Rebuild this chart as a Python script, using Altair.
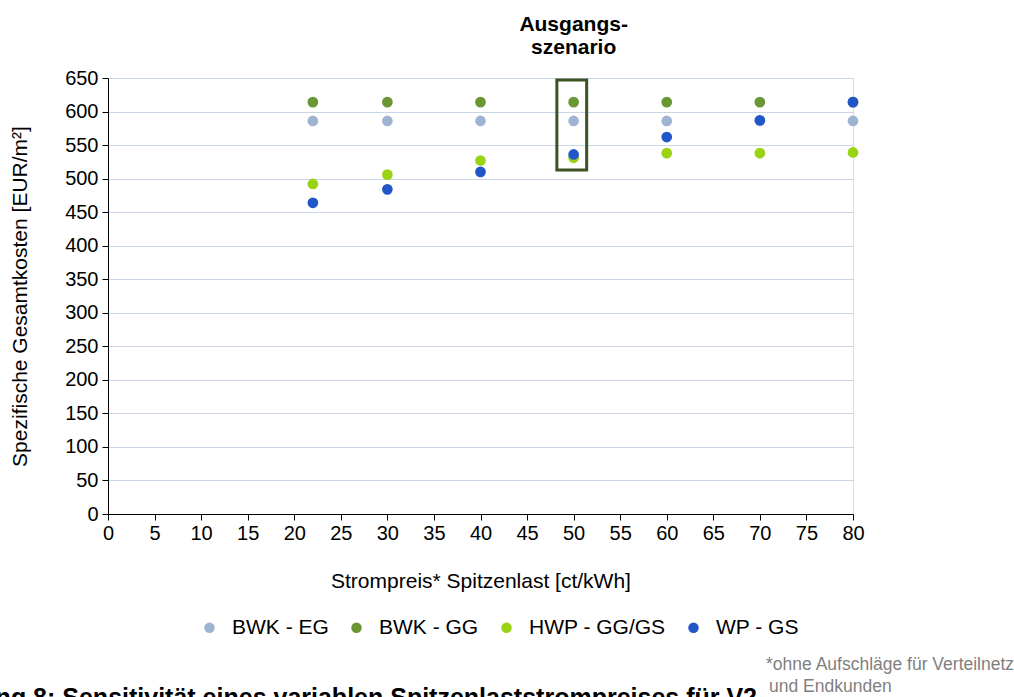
import altair as alt
import pandas as pd

strompreis = [22, 30, 40, 50, 60, 70, 80]
series_names = ["BWK - EG", "BWK - GG", "HWP - GG/GS", "WP - GS"]
bwk_eg = [586, 586, 586, 586, 586, 586, 586]
bwk_gg = [614, 614, 614, 614, 614, 614, 614]
hwp_gg_gs = [492, 506, 527, 531, 538, 538, 539]
wp_gs = [464, 484, 510, 536, 562, 587, 614]
colors = ["#9fb3d3", "#6a9733", "#99d314", "#2156c9"]

box_x = [48.2, 51.4]
box_y = [513, 647]

rows = []
for name, vals in zip(series_names, [bwk_eg, bwk_gg, hwp_gg_gs, wp_gs]):
    for xv, yv in zip(strompreis, vals):
        rows.append({"Strompreis": xv, "Kosten": yv, "Serie": name})
df = pd.DataFrame(rows)

FONT = "Liberation Sans"
xs = alt.Scale(domain=[0, 80], nice=False, zero=True)
ys = alt.Scale(domain=[0, 650], nice=False)

x_axis = alt.Axis(values=list(range(0, 81, 5)), title="Strompreis* Spitzenlast [ct/kWh]",
                  grid=False, domainColor="black", tickColor="black", tickSize=6,
                  labelFontSize=20, titleFontSize=21, labelColor="black", titleColor="black",
                  titleFontWeight="normal", titlePadding=27, labelPadding=3, labelFont=FONT, titleFont=FONT,
                  labelOverlap=False, labelFlush=False)
y_axis = alt.Axis(values=list(range(0, 651, 50)), title="Spezifische Gesamtkosten [EUR/m²]",
                  grid=True, gridColor="#cad5e8", gridWidth=1.2, domainColor="black", tickColor="black", tickSize=6,
                  labelFontSize=20, titleFontSize=21, labelColor="black", titleColor="black",
                  titleFontWeight="normal", titlePadding=34, labelPadding=4, labelFont=FONT, titleFont=FONT,
                  labelOverlap=False, labelFlush=False)

points = alt.Chart(df).mark_circle(size=115, opacity=1).encode(
    x=alt.X("Strompreis:Q", scale=xs, axis=x_axis),
    y=alt.Y("Kosten:Q", scale=ys, axis=y_axis),
    color=alt.Color("Serie:N", scale=alt.Scale(domain=series_names, range=colors),
                    sort=series_names,
                    legend=alt.Legend(title=None, orient="none", direction="horizontal",
                                      legendX=91, legendY=539, symbolType="circle", symbolSize=110,
                                      labelFontSize=21, labelFont=FONT, labelColor="black",
                                      labelOffset=12, columnPadding=17, symbolStrokeWidth=0)),
    order=alt.Order("order:Q"),
).transform_calculate(order="indexof(['BWK - EG','BWK - GG','HWP - GG/GS','WP - GS'], datum.Serie)")

box_df = pd.DataFrame({"x": [box_x[0]], "x2": [box_x[1]], "y": [box_y[0]], "y2": [box_y[1]]})
box = alt.Chart(box_df).mark_rect(fill=None, stroke="#3b5323", strokeWidth=3, filled=False).encode(
    x=alt.X("x:Q", scale=xs, axis=x_axis), x2="x2:Q",
    y=alt.Y("y:Q", scale=ys, axis=y_axis), y2="y2:Q")

title_df = pd.DataFrame({"x": [50]})
title = alt.Chart(title_df).mark_text(font=FONT, fontSize=21, fontWeight="bold", color="black",
                                      lineHeight=23, baseline="middle", align="center").encode(
    x=alt.X("x:Q", scale=xs, axis=x_axis),
    y=alt.value(-53),
    text=alt.value(["Ausgangs-", "szenario"]))

foot1 = alt.Chart(title_df).mark_text(font=FONT, fontSize=17.5, color="#7f7f7f", align="left",
                                      baseline="alphabetic").encode(
    x=alt.value(658), y=alt.value(592), text=alt.value("*ohne Aufschläge für Verteilnetz"))
foot2 = alt.Chart(title_df).mark_text(font=FONT, fontSize=17.5, color="#7f7f7f", align="left",
                                      baseline="alphabetic").encode(
    x=alt.value(661), y=alt.value(614), text=alt.value("und Endkunden"))
caption = alt.Chart(title_df).mark_text(font=FONT, fontSize=25, fontWeight="bold", color="black",
                                        align="right", baseline="alphabetic").encode(
    x=alt.value(649), y=alt.value(628),
    text=alt.value("Abbildung 8: Sensitivität eines variablen Spitzenlaststrompreises für V2"))

chart = alt.layer(points, box, title, foot1, foot2, caption).properties(
    width=745, height=436,
    autosize=alt.AutoSizeParams(type="none"),
    padding={"left": 108, "top": 78, "right": 161, "bottom": 183},
).configure_view(stroke=None).configure(background="white")

chart.save("out.html", embed_options={"renderer": "svg", "actions": False})
